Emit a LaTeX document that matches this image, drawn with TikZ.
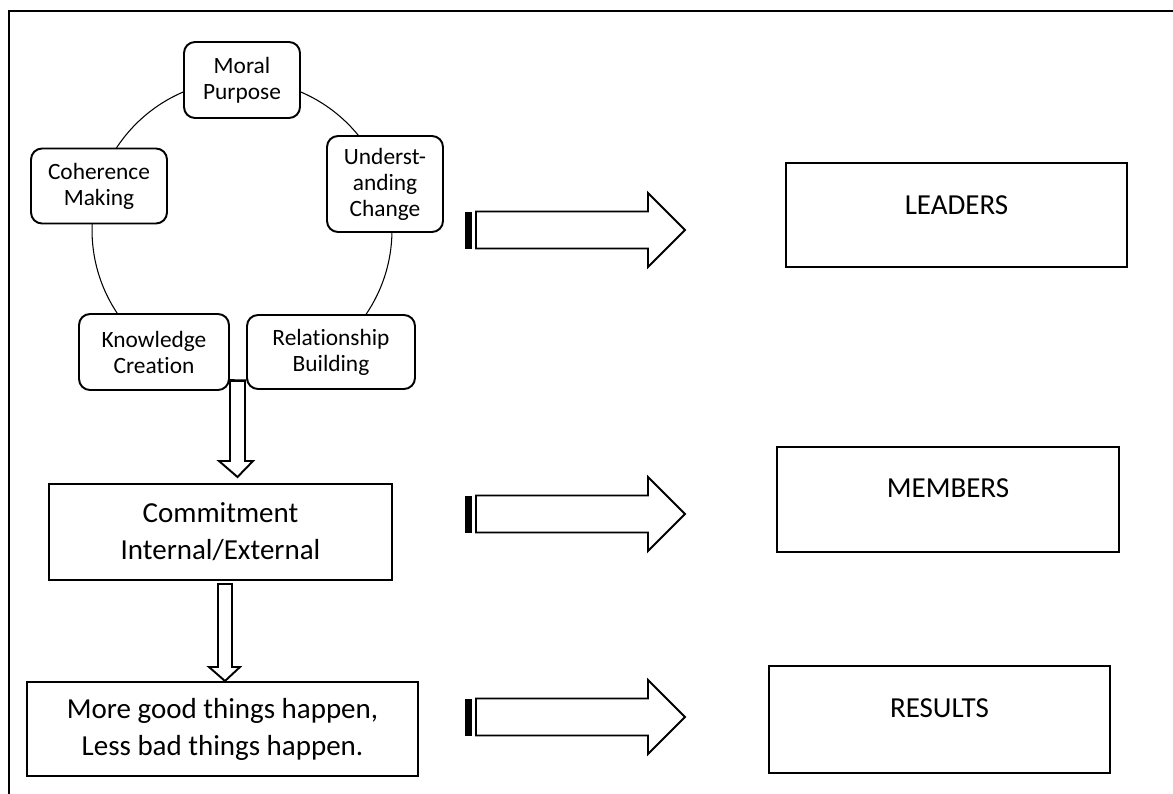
\documentclass[tikz,border=0pt]{standalone}
\usepackage{fontspec}
\setmainfont[Ligatures=CommonOff]{Carlito}
\newcommand\stripearrow[1]{%
  \fill (465,#1-18.5) rectangle (471.5,#1+18.5);
  \draw[blk] (476,#1-18.5) -- (648,#1-18.5) -- (648,#1-37) -- (685,#1) -- (648,#1+37) -- (648,#1+18.5) -- (476,#1+18.5) -- cycle;}
\begin{document}
\begin{tikzpicture}[x=0.02cm,y=-0.02cm,
  cyc/.style={draw, line width=1.1pt, rounded corners=0.22cm, fill=white, align=center, font=\fontsize{13.3}{14.8}\selectfont, inner sep=0pt},
  box/.style={draw, line width=1.2pt, fill=white, align=center, font=\fontsize{16.5}{21}\selectfont, inner sep=0pt},
  rbox/.style={draw, line width=1.3pt, inner sep=0pt},
  rlab/.style={font=\fontsize{16.5}{21}\selectfont},
  blk/.style={draw, line width=1.1pt, fill=white, line join=miter},
]
\useasboundingbox (0,0) rectangle (1173,794);
% frame
\draw[line width=1.1pt] (9,794) -- (9,11) -- (1173,11);
% cycle
\draw[line width=0.6pt] (242,230) circle[radius=3cm];
\node[cyc, minimum width=2.32cm, minimum height=1.52cm] (mp) at (242,80) {Moral\\Purpose};
\node[cyc, minimum width=2.32cm, minimum height=1.92cm] (uc) at (385,184) {Underst-\\anding\\Change};
\node[cyc, minimum width=2.72cm, minimum height=1.50cm] (cm) at (99,186) {Coherence\\Making};
\node[cyc, minimum width=3.00cm, minimum height=1.52cm] (kc) at (154,352) {Knowledge\\Creation};
\node[cyc, minimum width=3.36cm, minimum height=1.48cm] (rb) at (331,352) {Relationship\\Building};
% left column
\node[box, minimum width=6.86cm, minimum height=1.92cm] (com) at (220.5,532) {Commitment\\Internal/External};
\node[box, minimum width=7.82cm, minimum height=1.88cm] (res) at (222.5,729) {More good things happen,\\Less bad things happen.};
% down arrows
\draw[blk] (230,381) -- (245,381) -- (245,461) -- (253,461) -- (237.5,477) -- (219,461) -- (230,461) -- cycle;
\draw[blk] (218,584) -- (232,584) -- (232,667) -- (240,667) -- (225,681) -- (209,667) -- (218,667) -- cycle;
% right boxes
\node[rbox, minimum width=6.82cm, minimum height=2.08cm, label={[rlab, yshift=0.2cm]center:LEADERS}] (lead) at (956.5,215) {};
\node[rbox, minimum width=6.84cm, minimum height=2.10cm, label={[rlab, yshift=0.23cm]center:MEMBERS}] (mem) at (948,499.5) {};
\node[rbox, minimum width=6.82cm, minimum height=2.14cm, label={[rlab, yshift=0.23cm]center:RESULTS}] (rslt) at (939.5,719.5) {};
% block arrows
\stripearrow{230}
\stripearrow{514}
\stripearrow{717}
\end{tikzpicture}
\end{document}
